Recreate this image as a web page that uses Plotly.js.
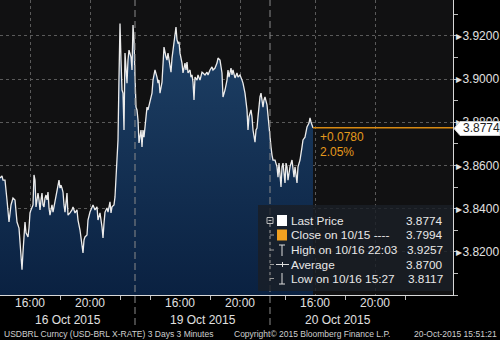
<!DOCTYPE html>
<html>
<head>
<meta charset="utf-8">
<script src="https://cdn.plot.ly/plotly-3.0.1.min.js"></script>
<style>
html,body{margin:0;padding:0;background:#000;}
#chart{width:500px;height:340px;}
</style>
</head>
<body>
<div id="chart"></div>
<script>
// Session minutes from 14:00 on 16 Oct 2015 (compressed trading time, 4 minutes per pixel)
const minutes = [0,8,12,20,28,32,36,44,52,60,64,68,76,80,84,88,92,96,100,104,112,116,120,124,132,136,140,144,148,152,156,160,164,168,172,176,180,184,188,192,196,200,204,208,212,216,220,224,228,232,236,240,244,248,252,256,260,268,272,280,288,292,300,308,312,320,328,332,336,340,348,352,360,368,372,380,388,392,400,408,412,416,420,428,432,440,444,448,456,460,464,468,472,476,480,484,488,492,496,500,504,508,512,516,524,528,532,536,540,544,548,552,556,564,568,572,576,584,588,592,600,608,612,620,628,632,636,640,648,652,656,664,668,672,680,684,688,692,696,704,708,712,716,720,728,732,740,744,748,752,760,764,768,772,776,780,788,792,800,808,812,820,828,832,840,848,852,860,868,872,880,888,892,900,908,912,916,924,928,932,940,948,952,960,968,972,980,988,992,996,1004,1008,1012,1016,1020,1024,1028,1032,1036,1040,1044,1052,1056,1060,1068,1072,1076,1080,1084,1088,1092,1100,1108,1112,1116,1124,1128,1132,1136,1140,1144,1148,1152,1160,1168,1172,1176,1180,1188,1192,1200,1208,1212,1220,1224,1228,1236,1240,1244,1248,1252];
const prices = [3.8542,3.8551,3.8532,3.8532,3.8440,3.8370,3.8338,3.8417,3.8449,3.8440,3.8384,3.8338,3.8310,3.8232,3.8153,3.8117,3.8199,3.8278,3.8338,3.8288,3.8269,3.8310,3.8380,3.8394,3.8417,3.8556,3.8532,3.8408,3.8440,3.8472,3.8440,3.8394,3.8440,3.8472,3.8417,3.8408,3.8449,3.8463,3.8440,3.8477,3.8403,3.8370,3.8394,3.8417,3.8384,3.8408,3.8431,3.8449,3.8468,3.8509,3.8532,3.8495,3.8509,3.8495,3.8477,3.8417,3.8384,3.8472,3.8370,3.8380,3.8394,3.8408,3.8380,3.8394,3.8347,3.8301,3.8241,3.8195,3.8255,3.8269,3.8278,3.8347,3.8384,3.8408,3.8417,3.8394,3.8408,3.8347,3.8380,3.8315,3.8264,3.8333,3.8384,3.8403,3.8384,3.8431,3.8380,3.8408,3.8417,3.8454,3.8546,3.8694,3.8718,3.9009,3.9257,3.9088,3.8949,3.8935,3.8764,3.9120,3.9042,3.8981,3.9088,3.9134,3.9102,3.9042,3.9250,3.9181,3.9009,3.8870,3.8857,3.8811,3.8704,3.8764,3.8685,3.8764,3.8731,3.8811,3.8870,3.8857,3.8903,3.8935,3.8995,3.9042,3.9009,3.8981,3.8995,3.8935,3.8986,3.9074,3.9148,3.9102,3.9088,3.9120,3.9065,3.9032,3.9097,3.9134,3.9194,3.9241,3.9181,3.9167,3.9172,3.9120,3.9074,3.9028,3.9074,3.9042,3.9079,3.9028,3.9042,3.9009,3.9019,3.8986,3.8903,3.9009,3.8995,3.9019,3.8995,3.9032,3.9028,3.9019,3.9032,3.9019,3.9042,3.9056,3.9042,3.9051,3.9074,3.9097,3.9088,3.9028,3.8917,3.8949,3.8995,3.9042,3.9009,3.9051,3.9019,3.9042,3.9005,3.9028,3.9009,3.9019,3.8995,3.8981,3.8935,3.8857,3.8764,3.8825,3.8857,3.8825,3.8764,3.8731,3.8708,3.8764,3.8773,3.8825,3.8889,3.8917,3.8935,3.8870,3.8903,3.8917,3.8880,3.8825,3.8764,3.8704,3.8685,3.8648,3.8625,3.8625,3.8593,3.8546,3.8611,3.8500,3.8593,3.8611,3.8565,3.8519,3.8611,3.8593,3.8532,3.8593,3.8625,3.8593,3.8546,3.8593,3.8519,3.8593,3.8625,3.8685,3.8718,3.8731,3.8764,3.8778,3.8796,3.8820,3.8801,3.8787,3.8774];

// Axis labels
const xTickVals = [120,360,720,960,1260,1500];
const xTickText = ['16:00','20:00','16:00','20:00','16:00','20:00'];
const xMinorVals = [240,480,600,840,1140,1380,1620];
const dayBreaks = [540,1080];
const dayCenters = [270,810,1350];
const dayLabels = ['16 Oct 2015','19 Oct 2015','20 Oct 2015'];
const yTickVals = [3.82,3.84,3.86,3.88,3.90,3.92];
const yTickText = yTickVals.map(v => '\u25B8' + v.toFixed(4));

// Legend / stats
const legendLabels = ['Last Price','Close on 10/15 ----','High on 10/16 22:03','Average','Low on 10/16 15:27'];
const legendValues = ['3.8774','3.7994','3.9257','3.8700','3.8117'];
const changeAbs = '+0.0780';
const changePct = '2.05%';
const footerLeft = 'USDBRL Curncy (USD-BRL X-RATE) 3 Days 3 Minutes';
const footerMid = 'Copyright\u00A9 2015 Bloomberg Finance L.P.';
const footerRight = '20-Oct-2015 15:51:21';

// Pixel helpers for decorations (plot area is 453 x 295 at top-left)
const PW = 453, PH = 295;
const px = x => x / PW;
const py = y => (PH - y) / PH;

const lastX = minutes[minutes.length - 1];
const lastP = prices[prices.length - 1];
const FONT = 'Liberation Sans, Arial, sans-serif';
const ORANGE = '#e59a1c';

const traces = [{
  type: 'scatter', mode: 'lines', x: minutes, y: prices,
  line: {color: '#ececec', width: 1.3},
  fill: 'tozeroy',
  fillgradient: {type: 'vertical', start: 3.80, stop: 3.93,
    colorscale: [[0, '#0a2141'], [1, '#1f4268']]},
  hoverinfo: 'none', showlegend: false
}];

const shapes = [];
dayBreaks.forEach(b => shapes.push({type: 'line', xref: 'x', yref: 'paper', x0: b, x1: b, y0: py(325), y1: 1,
  line: {color: '#8a8a8a', width: 1, dash: '7px,4px'}, layer: 'above'}));
// last price line
shapes.push({type: 'line', xref: 'x', yref: 'y', x0: lastX, x1: 1812, y0: lastP, y1: lastP,
  line: {color: '#d88a12', width: 1.5}, layer: 'above'});
// price tag on axis
const tagTop = 121.5, tagBot = 135.5, tagMid = (tagTop + tagBot) / 2;
shapes.push({type: 'path', xref: 'paper', yref: 'paper', layer: 'above',
  path: `M ${px(454)} ${py(tagMid)} L ${px(460)} ${py(tagTop)} L ${px(500)} ${py(tagTop)} L ${px(500)} ${py(tagBot)} L ${px(460)} ${py(tagBot)} Z`,
  fillcolor: '#ffffff', line: {color: '#cccccc', width: 1}});
// legend box
shapes.push({type: 'rect', xref: 'paper', yref: 'paper', layer: 'above',
  x0: px(258), x1: px(453), y0: py(291), y1: py(205),
  fillcolor: 'rgba(26,30,38,0.82)', line: {width: 0}});
const rowY = [220.5, 235, 250, 264.5, 278.5];
// tree lines
shapes.push({type: 'line', xref: 'paper', yref: 'paper', layer: 'above', x0: px(270), x1: px(270), y0: py(224), y1: py(283),
  line: {color: '#9a9a9a', width: 1, dash: 'dot'}});
[235, 250, 264.5, 278.5].forEach(r => shapes.push({type: 'line', xref: 'paper', yref: 'paper', layer: 'above',
  x0: px(270), x1: px(274), y0: py(r), y1: py(r), line: {color: '#9a9a9a', width: 1}}));
// expand box icon
shapes.push({type: 'rect', xref: 'paper', yref: 'paper', layer: 'above', x0: px(267), x1: px(273), y0: py(223.5), y1: py(217.5),
  fillcolor: 'rgba(0,0,0,0)', line: {color: '#bbbbbb', width: 1}});
shapes.push({type: 'line', xref: 'paper', yref: 'paper', layer: 'above', x0: px(268.5), x1: px(271.5), y0: py(220.5), y1: py(220.5),
  line: {color: '#bbbbbb', width: 1}});
// squares
shapes.push({type: 'rect', xref: 'paper', yref: 'paper', layer: 'above', x0: px(277), x1: px(287), y0: py(226), y1: py(215),
  fillcolor: '#ffffff', line: {width: 0}});
shapes.push({type: 'rect', xref: 'paper', yref: 'paper', layer: 'above', x0: px(277), x1: px(287), y0: py(240.5), y1: py(229.5),
  fillcolor: '#f0a020', line: {width: 0}});
// high icon
shapes.push({type: 'line', xref: 'paper', yref: 'paper', layer: 'above', x0: px(282), x1: px(282), y0: py(245), y1: py(256), line: {color: '#dddddd', width: 1}});
shapes.push({type: 'line', xref: 'paper', yref: 'paper', layer: 'above', x0: px(279), x1: px(285), y0: py(245), y1: py(245), line: {color: '#dddddd', width: 1}});
// average icon
shapes.push({type: 'line', xref: 'paper', yref: 'paper', layer: 'above', x0: px(276), x1: px(289), y0: py(264.5), y1: py(264.5), line: {color: '#dddddd', width: 1}});
shapes.push({type: 'line', xref: 'paper', yref: 'paper', layer: 'above', x0: px(282.5), x1: px(282.5), y0: py(262), y1: py(267), line: {color: '#dddddd', width: 1}});
// low icon
shapes.push({type: 'line', xref: 'paper', yref: 'paper', layer: 'above', x0: px(282), x1: px(282), y0: py(273), y1: py(284), line: {color: '#dddddd', width: 1}});
shapes.push({type: 'line', xref: 'paper', yref: 'paper', layer: 'above', x0: px(279), x1: px(285), y0: py(284), y1: py(284), line: {color: '#dddddd', width: 1}});

const annotations = [];
dayLabels.forEach((t, i) => annotations.push({xref: 'x', yref: 'paper', x: dayCenters[i], y: py(319.5),
  text: t, showarrow: false, xanchor: 'center', yanchor: 'middle', font: {family: FONT, size: 12, color: '#e0e0e0'}}));
annotations.push({xref: 'paper', yref: 'paper', x: px(2), y: py(333.5), text: footerLeft, showarrow: false,
  xanchor: 'left', yanchor: 'middle', font: {family: FONT, size: 8.5, color: '#cfcfcf'}});
annotations.push({xref: 'paper', yref: 'paper', x: px(232), y: py(333.5), text: footerMid, showarrow: false,
  xanchor: 'left', yanchor: 'middle', font: {family: FONT, size: 8.5, color: '#cfcfcf'}});
annotations.push({xref: 'paper', yref: 'paper', x: px(499), y: py(333.5), text: footerRight, showarrow: false,
  xanchor: 'right', yanchor: 'middle', font: {family: FONT, size: 8.5, color: '#cfcfcf'}});
annotations.push({xref: 'paper', yref: 'paper', x: px(318), y: py(137), text: changeAbs, showarrow: false,
  xanchor: 'left', yanchor: 'middle', font: {family: FONT, size: 12, color: ORANGE}});
annotations.push({xref: 'paper', yref: 'paper', x: px(318), y: py(152), text: changePct, showarrow: false,
  xanchor: 'left', yanchor: 'middle', font: {family: FONT, size: 12, color: ORANGE}});
annotations.push({xref: 'paper', yref: 'y', x: px(481), y: lastP, text: lastP.toFixed(4), showarrow: false,
  xanchor: 'center', yanchor: 'middle', font: {family: FONT, size: 12, color: '#222222'}});
legendLabels.forEach((t, i) => {
  annotations.push({xref: 'paper', yref: 'paper', x: px(289), y: py(rowY[i]), text: t, showarrow: false,
    xanchor: 'left', yanchor: 'middle', font: {family: FONT, size: 11.8, color: '#e8e8e8'}});
  annotations.push({xref: 'paper', yref: 'paper', x: px(445), y: py(rowY[i]), text: legendValues[i], showarrow: false,
    xanchor: 'right', yanchor: 'middle', font: {family: FONT, size: 11.8, color: '#e8e8e8'}});
});

const layout = {
  width: 500, height: 340,
  margin: {l: 0, r: 47, t: 0, b: 45, pad: 0},
  paper_bgcolor: '#000000', plot_bgcolor: '#111112',
  showlegend: false,
  xaxis: {
    range: [0, 1812], fixedrange: true, zeroline: false,
    tickmode: 'array', tickvals: xTickVals, ticktext: xTickText,
    ticks: '', ticklabelstandoff: -3,
    showgrid: true, gridcolor: '#5a5a5a', griddash: 'dot', gridwidth: 1,
    showline: true, linecolor: '#d8d8d8', linewidth: 1,
    tickfont: {family: FONT, size: 12, color: '#e0e0e0'},
    minor: {tickmode: 'array', tickvals: xMinorVals, ticks: 'outside', ticklen: 4, tickcolor: '#bbbbbb', showgrid: false}
  },
  yaxis: {
    side: 'right', range: [3.80, 3.9366], fixedrange: true, zeroline: false,
    tickmode: 'array', tickvals: yTickVals, ticktext: yTickText,
    ticks: '', showgrid: true, gridcolor: '#5a5a5a', griddash: 'dot', gridwidth: 1,
    showline: true, linecolor: '#d8d8d8', linewidth: 1,
    tickfont: {family: FONT, size: 12, color: '#e0e0e0'},
    minor: {dtick: 0.01, tick0: 3.81, ticks: 'outside', ticklen: 4, tickcolor: '#bbbbbb', showgrid: false}
  },
  shapes: shapes,
  annotations: annotations
};

Plotly.newPlot('chart', traces, layout, {staticPlot: true, displayModeBar: false});
</script>
</body>
</html>
